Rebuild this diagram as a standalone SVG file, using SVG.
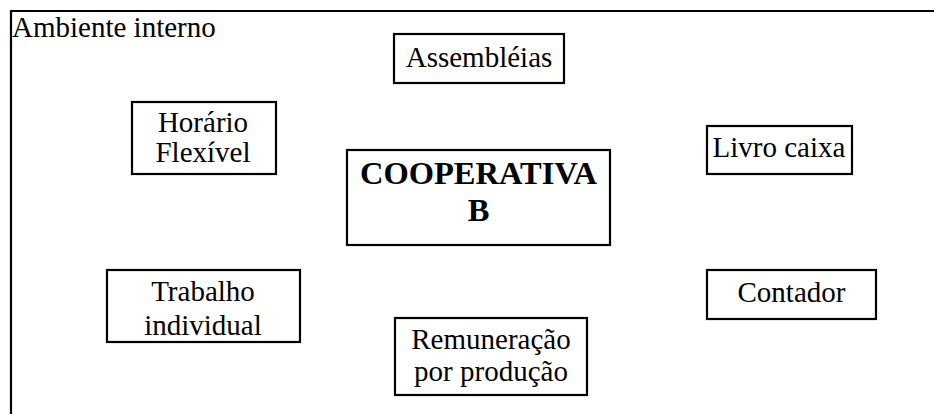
<svg xmlns="http://www.w3.org/2000/svg" width="934" height="414" viewBox="0 0 934 414">
<style>
.box{fill:#fff;stroke:#000;stroke-width:2.2}
.t{font-family:"Liberation Serif","Times New Roman",serif;font-size:29px;fill:#000;text-anchor:middle}
.b{font-weight:bold;font-size:32.5px}
.frame{fill:none;stroke:#000;stroke-width:2.2}
</style>
<rect width="934" height="414" fill="#fff"/>
<g id="frame">
<path class="frame" d="M11,414 V11 H934"/>
<text x="12" y="37" class="t" style="text-anchor:start">Ambiente interno</text>
</g>
<g id="connectors"></g>
<g id="assembleias">
<rect class="box" x="394" y="34" width="170" height="49"/>
<text class="t" x="479" y="67">Assembléias</text>
</g>
<g id="horario">
<rect class="box" x="132" y="102" width="144" height="72"/>
<text class="t" x="203" y="132">Horário</text>
<text class="t" x="203" y="162">Flexível</text>
</g>
<g id="livro">
<rect class="box" x="707" y="126" width="145" height="48"/>
<text class="t" x="779" y="157">Livro caixa</text>
</g>
<g id="cooperativa">
<rect class="box" x="347" y="150" width="263" height="95"/>
<text class="t b" x="478.5" y="184">COOPERATIVA</text>
<text class="t b" x="478.5" y="221">B</text>
</g>
<g id="trabalho">
<rect class="box" x="107" y="270" width="193" height="72"/>
<text class="t" x="203" y="301">Trabalho</text>
<text class="t" x="203" y="335">individual</text>
</g>
<g id="contador">
<rect class="box" x="707" y="270" width="169" height="49"/>
<text class="t" x="791.5" y="302">Contador</text>
</g>
<g id="remuneracao">
<rect class="box" x="395" y="318" width="192" height="77"/>
<text class="t" x="491" y="349">Remuneração</text>
<text class="t" x="491" y="381">por produção</text>
</g>
</svg>
